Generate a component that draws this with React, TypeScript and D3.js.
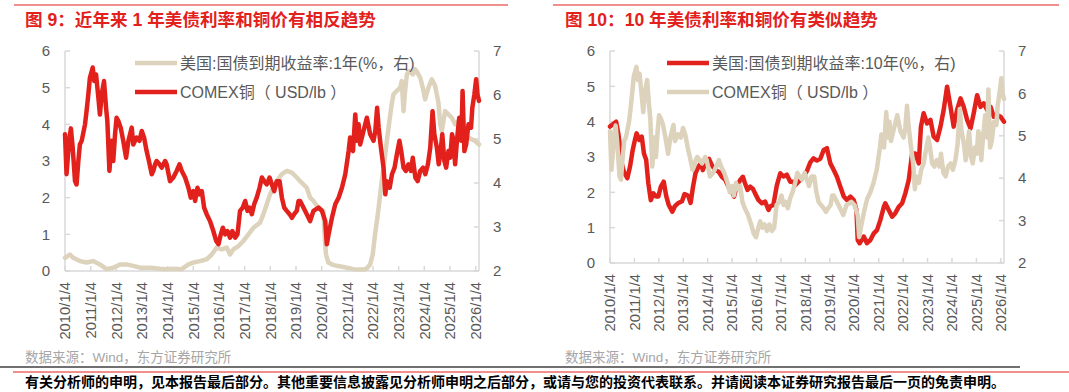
import React from 'react';
import * as d3 from 'd3';

// 横轴：小数年；数值均按左轴刻度读数
const yearTicks = d3.range(2010, 2027);
const leftTicks = [0, 1, 2, 3, 4, 5, 6];
const rightTicks = [2, 3, 4, 5, 6, 7];

// COMEX铜（两张图共用同一序列）
const copper: [number, number][] = [
  [2010.00, 3.73], [2010.06, 2.64], [2010.16, 3.55], [2010.23, 3.89], [2010.30, 3.36], [2010.39, 2.45],
  [2010.45, 2.36], [2010.52, 3.0], [2010.58, 3.45], [2010.65, 3.55], [2010.78, 4.0], [2010.84, 4.36],
  [2010.91, 4.82], [2010.97, 5.27], [2011.08, 5.55], [2011.14, 5.18], [2011.21, 5.36], [2011.30, 4.73],
  [2011.36, 4.27], [2011.43, 4.82], [2011.52, 5.18], [2011.60, 4.45], [2011.65, 4.09], [2011.73, 2.73],
  [2011.82, 3.55], [2011.88, 3.0], [2011.95, 3.73], [2012.01, 4.18], [2012.08, 4.09], [2012.17, 3.91],
  [2012.27, 3.55], [2012.38, 3.09], [2012.47, 3.55], [2012.60, 3.91], [2012.66, 3.45], [2012.79, 3.64],
  [2012.90, 3.55], [2012.99, 3.82], [2013.08, 3.64], [2013.18, 3.27], [2013.27, 3.0], [2013.38, 2.64],
  [2013.44, 2.73], [2013.51, 2.91], [2013.57, 3.0], [2013.68, 2.91], [2013.77, 2.82], [2013.90, 3.0],
  [2013.96, 2.91], [2014.09, 2.45], [2014.22, 2.55], [2014.35, 2.73], [2014.46, 2.91], [2014.55, 2.73],
  [2014.68, 2.55], [2014.81, 2.27], [2014.90, 2.0], [2015.00, 2.18], [2015.07, 1.91], [2015.16, 2.27],
  [2015.24, 2.09], [2015.33, 2.18], [2015.42, 1.73], [2015.52, 1.55], [2015.65, 1.36], [2015.78, 1.09],
  [2015.89, 0.82], [2015.98, 0.73], [2016.07, 1.0], [2016.15, 1.18], [2016.24, 1.0], [2016.33, 1.09],
  [2016.43, 0.91], [2016.52, 1.09], [2016.63, 0.91], [2016.72, 1.0], [2016.82, 1.64], [2016.93, 1.73],
  [2017.02, 1.91], [2017.11, 1.64], [2017.19, 1.73], [2017.28, 1.55], [2017.37, 1.82], [2017.47, 2.0],
  [2017.58, 2.27], [2017.67, 2.55], [2017.76, 2.45], [2017.86, 2.36], [2017.97, 2.55], [2018.06, 2.36],
  [2018.15, 2.18], [2018.25, 2.45], [2018.36, 2.45], [2018.45, 2.0], [2018.54, 1.73], [2018.64, 1.64],
  [2018.75, 1.55], [2018.84, 1.45], [2018.93, 1.55], [2019.03, 1.64], [2019.10, 1.91], [2019.16, 1.91],
  [2019.29, 1.73], [2019.42, 1.55], [2019.55, 1.36], [2019.68, 1.64], [2019.88, 1.73], [2020.01, 1.64],
  [2020.14, 1.36], [2020.20, 0.73], [2020.27, 1.0], [2020.40, 1.45], [2020.53, 1.82], [2020.66, 2.0],
  [2020.79, 2.27], [2020.92, 2.64], [2021.05, 3.27], [2021.11, 3.64], [2021.22, 3.27], [2021.31, 4.27],
  [2021.37, 3.55], [2021.44, 4.0], [2021.50, 3.45], [2021.63, 3.82], [2021.76, 4.18], [2021.89, 3.73],
  [2022.02, 3.55], [2022.09, 3.82], [2022.16, 4.45], [2022.22, 3.91], [2022.31, 3.36], [2022.41, 2.82],
  [2022.48, 2.09], [2022.54, 2.45], [2022.65, 2.27], [2022.74, 2.64], [2022.84, 2.82], [2022.93, 3.18],
  [2023.03, 3.55], [2023.10, 3.27], [2023.19, 2.82], [2023.28, 2.73], [2023.38, 2.91], [2023.48, 2.73],
  [2023.55, 3.09], [2023.65, 2.55], [2023.74, 2.45], [2023.84, 2.73], [2023.95, 2.82], [2024.04, 2.64],
  [2024.14, 2.91], [2024.23, 3.36], [2024.32, 4.36], [2024.39, 3.73], [2024.49, 3.36], [2024.56, 2.91],
  [2024.62, 3.18], [2024.70, 3.73], [2024.78, 3.0], [2024.85, 2.82], [2024.94, 3.27], [2025.01, 3.09],
  [2025.08, 3.73], [2025.14, 3.55], [2025.20, 2.91], [2025.27, 3.55], [2025.36, 4.18], [2025.44, 3.55],
  [2025.49, 4.91], [2025.56, 3.27], [2025.63, 3.45], [2025.72, 4.0], [2025.82, 3.91], [2025.87, 4.45],
  [2025.95, 4.82], [2026.02, 5.23], [2026.07, 4.82], [2026.13, 4.64],
];

// 美国国债到期收益率：1年
const yield1y: [number, number][] = [
  [2010.00, 0.36], [2010.19, 0.45], [2010.32, 0.36], [2010.58, 0.27], [2010.84, 0.23], [2011.10, 0.27],
  [2011.36, 0.18], [2011.62, 0.05], [2011.88, 0.09], [2012.14, 0.18], [2012.40, 0.18], [2012.66, 0.14],
  [2012.92, 0.09], [2013.31, 0.09], [2013.70, 0.06], [2013.96, 0.05], [2014.22, 0.06], [2014.55, 0.05],
  [2014.81, 0.18], [2015.00, 0.23], [2015.26, 0.27], [2015.52, 0.32], [2015.72, 0.45], [2015.91, 0.64],
  [2016.11, 0.59], [2016.30, 0.64], [2016.43, 0.45], [2016.56, 0.59], [2016.76, 0.68], [2016.95, 0.82],
  [2017.15, 1.0], [2017.34, 1.18], [2017.60, 1.32], [2017.73, 1.55], [2017.86, 1.82], [2017.99, 2.09],
  [2018.12, 2.27], [2018.25, 2.45], [2018.45, 2.64], [2018.64, 2.73], [2018.84, 2.68], [2019.03, 2.55],
  [2019.16, 2.45], [2019.42, 2.27], [2019.55, 2.0], [2019.68, 1.91], [2019.87, 1.73], [2020.07, 1.64],
  [2020.13, 0.82], [2020.17, 0.45], [2020.26, 0.23], [2020.46, 0.16], [2020.85, 0.11], [2021.24, 0.05],
  [2021.63, 0.04], [2021.76, 0.07], [2021.89, 0.18], [2021.99, 0.45], [2022.08, 1.0], [2022.17, 1.45],
  [2022.25, 1.91], [2022.34, 2.45], [2022.43, 2.91], [2022.54, 3.55], [2022.64, 4.09], [2022.73, 4.55],
  [2022.80, 4.82], [2022.93, 4.91], [2023.06, 5.0], [2023.12, 5.18], [2023.19, 4.36], [2023.25, 4.91],
  [2023.32, 5.36], [2023.42, 5.45], [2023.55, 5.36], [2023.64, 5.5], [2023.73, 5.41], [2023.84, 5.27],
  [2023.94, 5.0], [2024.03, 4.68], [2024.16, 5.0], [2024.29, 5.23], [2024.42, 5.05], [2024.55, 4.59],
  [2024.62, 4.0], [2024.68, 3.82], [2024.81, 4.36], [2024.94, 4.27], [2025.07, 4.18], [2025.20, 4.0],
  [2025.33, 4.09], [2025.46, 3.82], [2025.59, 3.73], [2025.72, 3.64], [2025.85, 3.59], [2025.98, 3.55],
  [2026.13, 3.45],
];

// 美国国债到期收益率：10年
const yield10y: [number, number][] = [
  [2010.00, 3.86], [2010.16, 3.95], [2010.25, 4.0], [2010.34, 3.67], [2010.41, 3.29], [2010.48, 2.82],
  [2010.57, 2.58], [2010.71, 2.4], [2010.82, 2.73], [2010.93, 3.2], [2011.02, 3.48], [2011.09, 3.67],
  [2011.20, 3.48], [2011.30, 3.58], [2011.39, 3.1], [2011.48, 2.92], [2011.57, 2.25], [2011.67, 1.78],
  [2011.78, 1.97], [2011.89, 1.88], [2011.98, 1.88], [2012.08, 2.16], [2012.20, 2.3], [2012.30, 1.9],
  [2012.40, 1.65], [2012.55, 1.45], [2012.65, 1.6], [2012.80, 1.7], [2012.95, 1.75], [2013.05, 1.95],
  [2013.20, 1.9], [2013.30, 1.7], [2013.40, 2.16], [2013.50, 2.54], [2013.62, 2.73], [2013.72, 2.82],
  [2013.80, 2.63], [2013.92, 2.87], [2014.05, 2.95], [2014.17, 2.77], [2014.30, 2.63], [2014.45, 2.58],
  [2014.58, 2.44], [2014.72, 2.35], [2014.85, 2.16], [2014.99, 2.02], [2015.08, 1.88], [2015.18, 2.16],
  [2015.33, 2.35], [2015.44, 2.44], [2015.53, 2.25], [2015.63, 2.07], [2015.74, 2.16], [2015.85, 2.1],
  [2015.94, 1.97], [2016.08, 1.78], [2016.22, 1.69], [2016.35, 1.74], [2016.49, 1.5], [2016.56, 1.6],
  [2016.69, 1.65], [2016.83, 2.2], [2016.97, 2.54], [2017.10, 2.45], [2017.24, 2.5], [2017.38, 2.3],
  [2017.49, 2.3], [2017.58, 2.2], [2017.72, 2.3], [2017.92, 2.45], [2018.06, 2.6], [2018.20, 2.85],
  [2018.33, 2.96], [2018.47, 2.9], [2018.61, 2.95], [2018.75, 3.2], [2018.88, 3.25], [2019.02, 2.82],
  [2019.16, 2.63], [2019.29, 2.44], [2019.43, 2.16], [2019.57, 1.88], [2019.70, 1.78], [2019.84, 1.88],
  [2019.98, 1.78], [2020.09, 1.5], [2020.14, 0.65], [2020.22, 0.56], [2020.39, 0.75], [2020.52, 0.56],
  [2020.66, 0.65], [2020.80, 0.84], [2020.93, 0.93], [2021.07, 1.22], [2021.21, 1.59], [2021.27, 1.69],
  [2021.41, 1.5], [2021.55, 1.31], [2021.68, 1.41], [2021.82, 1.59], [2021.96, 1.69], [2022.09, 1.97],
  [2022.23, 2.35], [2022.37, 3.1], [2022.50, 3.1], [2022.64, 2.82], [2022.73, 3.86], [2022.84, 4.24],
  [2022.98, 3.95], [2023.12, 4.05], [2023.25, 3.58], [2023.39, 3.48], [2023.53, 3.86], [2023.66, 4.33],
  [2023.80, 4.99], [2023.94, 4.42], [2024.07, 3.86], [2024.21, 4.33], [2024.35, 4.66], [2024.48, 4.42],
  [2024.62, 4.05], [2024.76, 3.81], [2024.89, 4.24], [2025.03, 4.75], [2025.17, 4.42], [2025.30, 4.52],
  [2025.44, 4.33], [2025.58, 4.42], [2025.71, 4.14], [2025.85, 4.19], [2025.99, 4.14], [2026.13, 4.0],
];

const RED = '#e2211c';
const BEIGE = '#ddd3bc';
const AXIS = '#d9d9d9';
const LABEL = '#595959';
const FONT = '"Liberation Sans", Arial, "Noto Sans CJK SC", sans-serif';

type Series = { label: string; color: string; data: [number, number][] };

const Panel = ({ left, right, top, bottom, title, titleX, ruleX0, ruleX1, legendX, series }: {
  left: number; right: number; top: number; bottom: number; title: string; titleX: number;
  ruleX0: number; ruleX1: number; legendX: number; series: Series[];
}) => {
  const x = d3.scaleLinear().domain([2010, 2026.13]).range([left, right]);
  const yL = d3.scaleLinear().domain([0, 6]).range([bottom, top]);
  const yR = d3.scaleLinear().domain([2, 7]).range([bottom, top]);
  const line = d3.line<[number, number]>().x(d => x(d[0])).y(d => yL(d[1]));

  return (
    <g fontFamily={FONT}>
      <line x1={ruleX0} x2={ruleX1} y1={5} y2={5} stroke={RED} strokeWidth={1.2} />
      <text x={titleX} y={26} fill={RED} fontSize={17.6} fontWeight="bold">{title}</text>

      {/* axes */}
      <line x1={left} x2={left} y1={top} y2={bottom} stroke={AXIS} strokeWidth={1.5} />
      <line x1={right} x2={right} y1={top} y2={bottom} stroke={AXIS} strokeWidth={1.5} />
      <line x1={left} x2={right} y1={bottom} y2={bottom} stroke={AXIS} strokeWidth={1.5} />
      {leftTicks.map(t => (
        <g key={'l' + t}>
          <line x1={left} x2={left + 5} y1={yL(t)} y2={yL(t)} stroke={AXIS} strokeWidth={1.5} />
          <text x={left - 15} y={yL(t)} dy="0.35em" textAnchor="end" fontSize={15} fill={LABEL}>{t}</text>
        </g>
      ))}
      {rightTicks.map(t => (
        <g key={'r' + t}>
          <line x1={right - 5} x2={right} y1={yR(t)} y2={yR(t)} stroke={AXIS} strokeWidth={1.5} />
          <text x={right + 14} y={yR(t)} dy="0.35em" fontSize={15} fill={LABEL}>{t}</text>
        </g>
      ))}
      {yearTicks.map(yr => (
        <g key={yr}>
          <line x1={x(yr)} x2={x(yr)} y1={bottom} y2={bottom - 5} stroke={AXIS} strokeWidth={1.5} />
          <text transform={`translate(${x(yr)},${bottom + 11}) rotate(-90)`} dy="0.35em"
            textAnchor="end" fontSize={14.8} fill={LABEL}>{`${yr}/1/4`}</text>
        </g>
      ))}

      {/* series */}
      {series.map(s => (
        <path key={s.label} d={line(s.data) ?? ''} fill="none" stroke={s.color}
          strokeWidth={4.5} strokeLinejoin="round" strokeLinecap="round" />
      ))}

      {/* legend */}
      {series.map((s, i) => (
        <g key={'lg' + i}>
          <line x1={legendX} x2={legendX + 42} y1={63 + i * 29} y2={63 + i * 29} stroke={s.color} strokeWidth={4.5} />
          <text x={legendX + 45} y={63 + i * 29} dy="0.35em" fontSize={16} fill={LABEL}>{s.label}</text>
        </g>
      ))}
    </g>
  );
};

export default function App() {
  return (
    <svg width={1069} height={392} style={{ position: 'absolute', left: 0, top: 0, background: '#fff' }}>
      <Panel left={65} right={479} top={51} bottom={271} title="图 9：近年来 1 年美债利率和铜价有相反趋势"
        titleX={25} ruleX0={14} ruleX1={508} legendX={135}
        series={[
          { label: '美国:国债到期收益率:1年(%，右)', color: BEIGE, data: yield1y },
          { label: 'COMEX铜（ USD/lb ）', color: RED, data: copper },
        ]} />
      <Panel left={610} right={1004} top={51} bottom={263} title="图 10：10 年美债利率和铜价有类似趋势"
        titleX={565} ruleX0={553} ruleX1={1059} legendX={667}
        series={[
          { label: '美国:国债到期收益率:10年(%，右)', color: RED, data: yield10y },
          { label: 'COMEX铜（ USD/lb ）', color: BEIGE, data: copper },
        ]} />
      <g fontFamily={FONT}>
        <text x={25} y={362} fontSize={13.5} fill="#a6a6a6">数据来源：Wind，东方证券研究所</text>
        <text x={565} y={362} fontSize={13.5} fill="#a6a6a6">数据来源：Wind，东方证券研究所</text>
        <line x1={0} x2={1020} y1={367} y2={367} stroke="#404040" strokeWidth={1.5} />
        <line x1={13} x2={1069} y1={372} y2={372} stroke={RED} strokeWidth={1} />
        <text x={25} y={387} fontSize={14.0} fontWeight="bold" fill="#000">
          有关分析师的申明，见本报告最后部分。其他重要信息披露见分析师申明之后部分，或请与您的投资代表联系。并请阅读本证券研究报告最后一页的免责申明。
        </text>
      </g>
    </svg>
  );
}
